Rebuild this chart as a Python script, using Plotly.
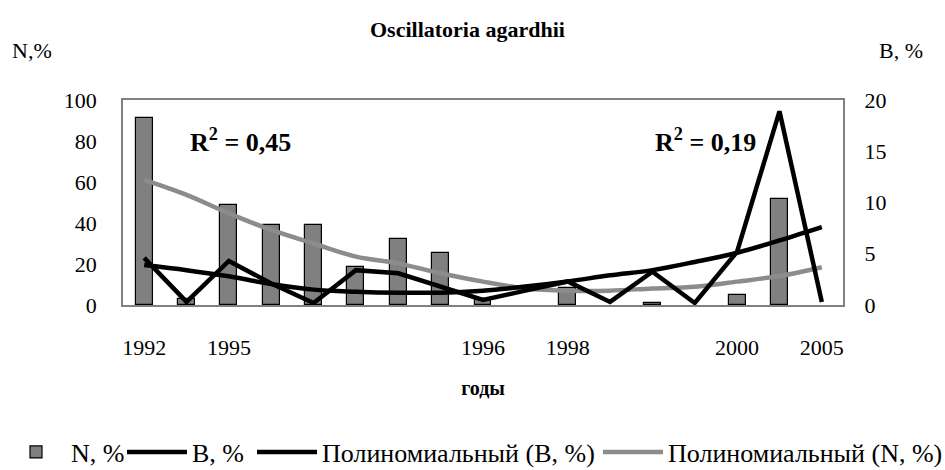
import plotly.graph_objects as go

# ---- data ----
positions = list(range(17))
tick_positions = [0, 2, 8, 10, 14, 16]
tick_labels = ["1992", "1995", "1996", "1998", "2000", "2005"]

n_values = [91, 3, 49, 39, 39, 18.5, 32, 25.2, 3, None, 8.1, None, 1.1, None, 4.7, 51.5, None]
b_values = [4.6, 0.3, 4.3, 2.1, 0.2, 3.4, 3.1, 1.8, 0.5, 1.4, 2.3, 0.3, 3.25, 0.2, 5.2, 18.9, 0.3]
b_trend = [3.9, 3.4, 2.8, 2.05, 1.5, 1.3, 1.2, 1.2, 1.4, 1.8, 2.3, 2.9, 3.4, 4.2, 5.1, 6.3, 7.6]
n_trend = [61, 53.7, 44.7, 36.6, 30, 23.6, 20.3, 15.5, 11.4, 8.1, 7.0, 7.0, 8.1, 8.9, 11.4, 14.1, 18.4]

FONT = "Liberation Serif"

fig = go.Figure()
fig.add_trace(go.Bar(
    x=positions, y=n_values, name="N, %", width=0.4,
    marker=dict(color="#808080", line=dict(color="black", width=1.2)),
    yaxis="y", legend="legend",
))
fig.add_trace(go.Scatter(
    x=positions, y=b_values, name="B, %", mode="lines",
    line=dict(color="black", width=4.5), yaxis="y2", legend="legend2",
))
fig.add_trace(go.Scatter(
    x=positions, y=b_trend, name="Полиномиальный (B, %)", mode="lines",
    line=dict(color="black", width=4.5, shape="spline"), yaxis="y2", legend="legend3",
))
fig.add_trace(go.Scatter(
    x=positions, y=n_trend, name="Полиномиальный (N, %)", mode="lines",
    line=dict(color="#8c8c8c", width=4.5, shape="spline"), yaxis="y", legend="legend4",
))

W, H = 945, 470
L, R, T, B = 123, 102, 100, 165
ph = H - T - B
pw = W - L - R


def leg(text_start):
    return dict(
        orientation="h", xref="container", yref="container",
        x=(text_start - 72) / W, xanchor="left",
        y=1 - 452 / H, yanchor="middle",
        font=dict(family=FONT, size=26), itemwidth=60,
        bgcolor="rgba(0,0,0,0)",
    )


fig.update_layout(
    width=W, height=H,
    margin=dict(l=L, r=R, t=T, b=B, autoexpand=False),
    paper_bgcolor="white", plot_bgcolor="white",
    font=dict(family=FONT, size=22, color="black"),
    showlegend=True,
    bargap=0,
    xaxis=dict(
        range=[-0.5, 16.5], tickvals=tick_positions, ticktext=tick_labels,
        showgrid=False, zeroline=False, showline=True, linecolor="#808080", linewidth=1.5,
        mirror=True, ticks="outside", ticklen=22, tickcolor="rgba(0,0,0,0)",
        tickfont=dict(family=FONT, size=22), automargin=False,
        title=dict(text="<b>годы</b>", font=dict(family=FONT, size=20), standoff=22),
    ),
    yaxis=dict(
        range=[0, 100], tickvals=[0, 20, 40, 60, 80, 100],
        showgrid=False, zeroline=False, showline=True, linecolor="#808080", linewidth=1.5,
        mirror=True, ticks="outside", ticklen=20, tickcolor="rgba(0,0,0,0)",
        tickfont=dict(family=FONT, size=22), automargin=False,
    ),
    yaxis2=dict(
        range=[0, 20], tickvals=[0, 5, 10, 15, 20], overlaying="y", side="right",
        showgrid=False, zeroline=False, showline=False,
        ticks="outside", ticklen=16, tickcolor="rgba(0,0,0,0)",
        tickfont=dict(family=FONT, size=22), automargin=False,
    ),
    legend=leg(73),
    legend2=leg(194),
    legend3=leg(324),
    legend4=leg(670),
    annotations=[
        dict(text="<b>Oscillatoria agardhii</b>", xref="paper", yref="paper",
             x=(467 - L) / pw, y=(H - 30 - B) / ph, xanchor="center", yanchor="middle",
             showarrow=False, font=dict(family=FONT, size=22)),
        dict(text="N,%", xref="paper", yref="paper",
             x=(10 - L) / pw, y=(H - 50 - B) / ph, xanchor="left", yanchor="middle",
             showarrow=False, font=dict(family=FONT, size=22)),
        dict(text="B, %", xref="paper", yref="paper",
             x=(925 - L) / pw, y=(H - 50 - B) / ph, xanchor="right", yanchor="middle",
             showarrow=False, font=dict(family=FONT, size=22)),
        dict(text="<b>R<sup>2</sup> = 0,45</b>", xref="paper", yref="paper",
             x=(240 - L) / pw, y=(H - 140 - B) / ph, xanchor="center", yanchor="middle",
             showarrow=False, font=dict(family=FONT, size=26)),
        dict(text="<b>R<sup>2</sup> = 0,19</b>", xref="paper", yref="paper",
             x=(705 - L) / pw, y=(H - 140 - B) / ph, xanchor="center", yanchor="middle",
             showarrow=False, font=dict(family=FONT, size=26)),
    ],
)

fig.write_html(
    "out.html",
    config={"displayModeBar": False},
    post_script="document.body.style.margin='0';document.body.style.overflow='hidden';",
)
